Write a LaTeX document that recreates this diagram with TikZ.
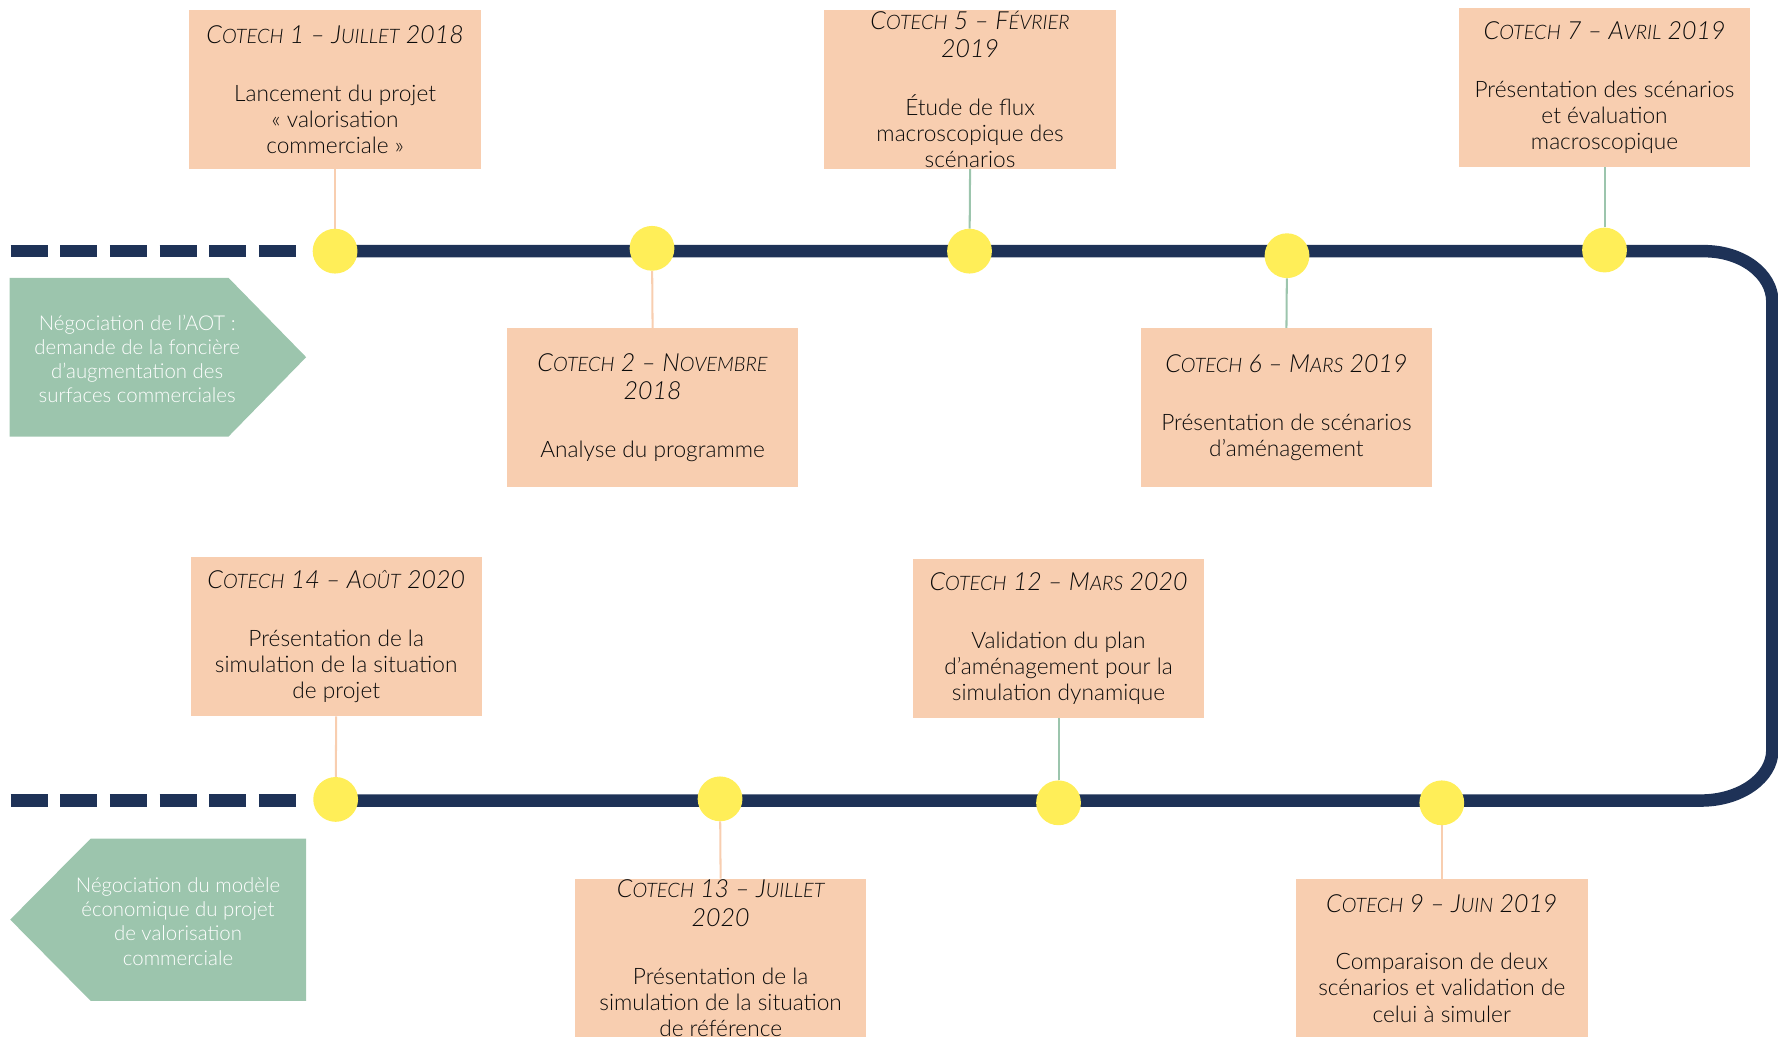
\documentclass[tikz,border=0pt]{standalone}
\usepackage{fontspec}
\IfFontExistsTF{Lato Light}{\setmainfont{Lato Light}}{\setmainfont{Lato}}
\definecolor{peach}{HTML}{F8CEB0}
\definecolor{sage}{HTML}{9CC5AD}
\definecolor{navy}{HTML}{1E3257}
\definecolor{dotc}{HTML}{FFEE58}
\definecolor{ink}{HTML}{0A0A0A}
\newcommand\fsc[1]{{\fontsize{17.6}{20}\selectfont #1}}
\newcommand\ttl[1]{{\fontsize{22}{25}\selectfont\itshape #1}}
\pgfdeclarelayer{bg}
\pgfsetlayers{bg,main}
\begin{document}
\begin{tikzpicture}[x=1pt,y=1pt,
  cbox/.style={fill=peach, minimum width=257pt, minimum height=140pt, inner sep=0pt},
  ctext/.style={align=center, text=ink, font=\fontsize{20}{23}\selectfont, inner sep=0pt},
  dotn/.style={circle, fill=dotc, minimum size=39.5pt, inner sep=0pt},
  lk/.style={line width=1.8pt},
  lkp/.style={lk, draw=peach},
  lkg/.style={lk, draw=sage},
  rail/.style={draw=navy, line width=11pt},
  gtext/.style={align=center, text=white, font=\fontsize{18}{21.4}\selectfont, inner sep=0pt}]
\useasboundingbox (0,0) rectangle (1568,-914.5);

% green arrows
\fill[sage] (8.4,-245) -- (201.5,-245) -- (270,-315) -- (201.5,-385) -- (8.4,-385) -- cycle;
\node[gtext] (g1) at (121,-316.5) {Négociation de l’AOT :\\demande de la foncière\\d’augmentation des\\surfaces commerciales};
\fill[sage] (80,-739.5) -- (270,-739.5) -- (270,-882.7) -- (80,-882.7) -- (9,-811) -- cycle;
\node[gtext] (g2) at (157,-812.5) {Négociation du modèle\\économique du projet\\de valorisation\\commerciale};

% dots
\node[dotn] (c1) at (295.5,-221.5) {};
\node[dotn] (c2) at (575,-219) {};
\node[dotn] (c5) at (855,-221.5) {};
\node[dotn] (c6) at (1135,-225.5) {};
\node[dotn] (c7) at (1415,-220.5) {};
\node[dotn] (c14) at (296,-705) {};
\node[dotn] (c13) at (635,-704.5) {};
\node[dotn] (c12) at (933.5,-708) {};
\node[dotn] (c9) at (1271.5,-708) {};

% boxes
\node[cbox] (b1) at (295.5,-79) {};
\node[cbox] (b5) at (855.5,-79) {};
\node[cbox] (b7) at (1415,-77) {};
\node[cbox] (b2) at (575.5,-359.5) {};
\node[cbox] (b6) at (1134.5,-359.5) {};
\node[cbox] (b14) at (296.5,-561.5) {};
\node[cbox] (b12) at (933.5,-563) {};
\node[cbox] (b13) at (635.5,-845) {};
\node[cbox] (b9) at (1271.5,-845) {};

\node[ctext] (t1) at (b1.center) {\ttl{C\fsc{OTECH} 1 – J\fsc{UILLET} 2018}\\[28pt]Lancement du projet\\« valorisation\\commerciale »};
\node[ctext] (t5) at (b5.center) {\ttl{C\fsc{OTECH} 5 – F\fsc{ÉVRIER}}\\[2pt]\ttl{2019}\\[28pt]Étude de flux\\macroscopique des\\scénarios};
\node[ctext] (t7) at (b7.center) {\ttl{C\fsc{OTECH} 7 – A\fsc{VRIL} 2019}\\[28pt]Présentation des scénarios\\et évaluation\\macroscopique};
\node[ctext] (t2) at (b2.center) {\ttl{C\fsc{OTECH} 2 – N\fsc{OVEMBRE}}\\[2pt]\ttl{2018}\\[28pt]Analyse du programme};
\node[ctext] (t6) at (b6.center) {\ttl{C\fsc{OTECH} 6 – M\fsc{ARS} 2019}\\[28pt]Présentation de scénarios\\d’aménagement};
\node[ctext] (t14) at (b14.center) {\ttl{C\fsc{OTECH} 14 – A\fsc{OÛT} 2020}\\[28pt]Présentation de la\\simulation de la situation\\de projet};
\node[ctext] (t12) at (b12.center) {\ttl{C\fsc{OTECH} 12 – M\fsc{ARS} 2020}\\[28pt]Validation du plan\\d’aménagement pour la\\simulation dynamique};
\node[ctext] (t13) at (b13.center) {\ttl{C\fsc{OTECH} 13 – J\fsc{UILLET}}\\[2pt]\ttl{2020}\\[28pt]Présentation de la\\simulation de la situation\\de référence};
\node[ctext] (t9) at (b9.center) {\ttl{C\fsc{OTECH} 9 – J\fsc{UIN} 2019}\\[28pt]Comparaison de deux\\scénarios et validation de\\celui à simuler};

\begin{pgfonlayer}{bg}
  \draw[draw=navy, line width=11pt, dash pattern=on 32.7pt off 11.1pt] (9.4,-221.5) -- (262,-221.5);
  \draw[draw=navy, line width=11pt, dash pattern=on 32.7pt off 11.1pt] (9.4,-706) -- (262,-706);
  \draw[rail] (c1.center) -- (1503,-221.5) arc[start angle=90, end angle=0, x radius=60, y radius=44.5]
     -- (1563,-661.5) arc[start angle=0, end angle=-90, x radius=63, y radius=44.5] -- (c14.center |- 0,-706);
  \draw[lkp] (b1.south) -- (c1);
  \draw[lkp] (b2.north) -- (c2);
  \draw[lkg] (b5.south) -- (c5);
  \draw[lkg] (b6.north) -- (c6);
  \draw[lkg] (b7.south) -- (c7);
  \draw[lkp] (b14.south) -- (c14);
  \draw[lkp] (b13.north) -- (c13);
  \draw[lkg] (b12.south) -- (c12);
  \draw[lkp] (b9.north) -- (c9);
\end{pgfonlayer}
\end{tikzpicture}
\end{document}
